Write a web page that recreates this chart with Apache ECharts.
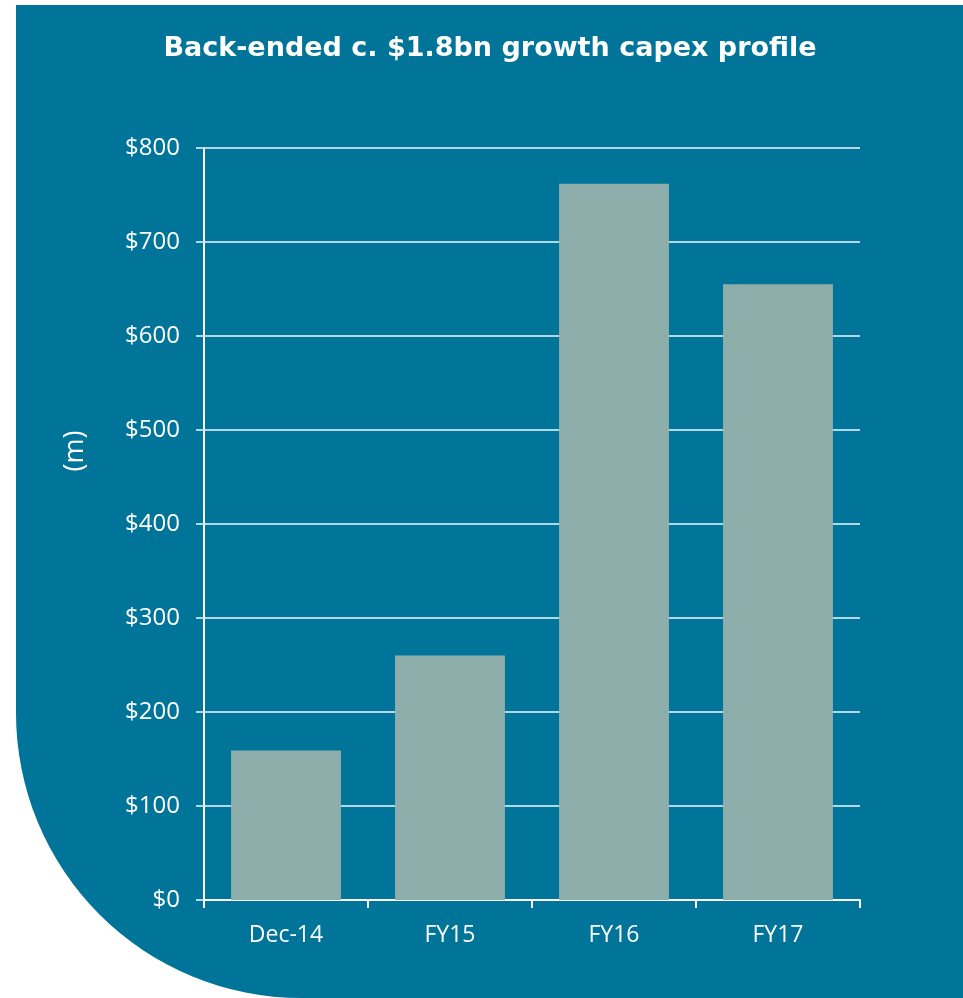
<!DOCTYPE html>
<html>
<head>
<meta charset="utf-8">
<title>Growth capex profile</title>
<script src="https://cdn.jsdelivr.net/npm/echarts@6/dist/echarts.min.js"></script>
<style>
  html, body { margin: 0; padding: 0; background: #ffffff; }
  #chart { width: 963px; height: 998px; }
</style>
</head>
<body>
<div id="chart"></div>
<script>
// data
const periods = ["Dec-14", "FY15", "FY16", "FY17"];
const capex = [159, 260, 762, 655];

const TEAL = "#007499";
const BAR = "#8daeab";
const GRID_LINE = "#b3d8e5";
const FONT = "'Open Sans', 'Noto Sans', sans-serif";

const chart = echarts.init(document.getElementById("chart"));

chart.setOption({
  backgroundColor: "#ffffff",
  animation: false,
  graphic: [
    {
      // panel shape behind the chart
      type: "rect",
      z: -10,
      shape: { x: 16, y: 5, width: 947, height: 993, r: [0, 0, 0, 285] },
      style: { fill: TEAL }
    }
  ],
  title: {
    text: "Back-ended c. $1.8bn growth capex profile",
    left: 485,
    textAlign: "center",
    top: 30,
    textStyle: {
      color: "#ffffff",
      fontFamily: "'DejaVu Sans', sans-serif",
      fontWeight: "bold",
      fontSize: 27
    }
  },
  grid: { left: 204, right: 103, top: 148, bottom: 98 },
  xAxis: {
    type: "category",
    data: periods,
    axisLine: { lineStyle: { color: "#ffffff", width: 2 } },
    axisTick: { show: true, length: 8, lineStyle: { color: "#ffffff", width: 2 } },
    axisLabel: { color: "#ffffff", fontFamily: FONT, fontSize: 23, margin: 24 }
  },
  yAxis: {
    type: "value",
    min: 0,
    max: 800,
    interval: 100,
    name: "(m)",
    nameLocation: "middle",
    nameGap: 115,
    nameTextStyle: { color: "#ffffff", fontFamily: FONT, fontSize: 27, padding: [0, 0, 0, 146] },
    axisLine: { show: true, lineStyle: { color: "#ffffff", width: 2 } },
    axisTick: { show: true, length: 8, lineStyle: { color: GRID_LINE, width: 2 } },
    splitLine: { lineStyle: { color: GRID_LINE, width: 2 } },
    axisLabel: {
      color: "#ffffff",
      fontFamily: FONT,
      fontSize: 24,
      margin: 24,
      formatter: (v) => "$" + v
    }
  },
  series: [
    {
      type: "bar",
      data: capex,
      barWidth: "67%",
      itemStyle: { color: BAR }
    }
  ]
});
</script>
</body>
</html>
